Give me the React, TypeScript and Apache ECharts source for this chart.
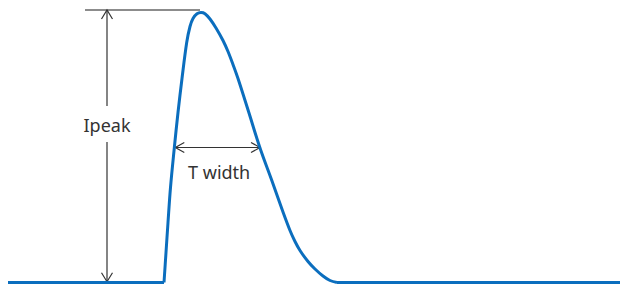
import React, { useEffect, useRef } from "react";
import * as echarts from "echarts";

// Pulse waveform (time units, current units)
const baselineBeforeTime = [0, 156];
const baselineBeforeCurrent = [0, 0];
const pulseTime = [156, 158, 160, 162.5, 166.3, 170, 174, 178.7, 182, 185, 189, 193, 197, 202, 208, 215, 220, 225, 230, 241, 252, 264, 275, 282, 287, 292, 300, 307, 315, 322, 329];
const pulseCurrent = [0, 30, 60, 95, 134.5, 170, 204, 240, 256, 264, 268.8, 270, 268.8, 263.5, 254.5, 242, 231, 218, 204, 169.5, 134.5, 101.5, 70.5, 52, 41, 32, 21, 13.5, 6.5, 2, 0];
const baselineAfterTime = [329, 612];
const baselineAfterCurrent = [0, 0];

const labels = ["Ipeak", "T width"];

const LINE_COLOR = "#0b6ebe";
const ANNO_COLOR = "#333333";

export default function App() {
  const ref = useRef<HTMLDivElement>(null);
  useEffect(() => {
    if (!ref.current) return;
    const chart = echarts.init(ref.current, undefined, { renderer: "svg" });
    const zip = (a: number[], b: number[]) => a.map((v, i) => [v, b[i]]);
    const lineStyle = { color: LINE_COLOR, width: 3 };
    chart.setOption({
      animation: false,
      grid: { left: 8, top: 0, width: 612, height: 282.5 },
      xAxis: { type: "value", min: 0, max: 612, show: false },
      yAxis: { type: "value", min: 0, max: 282.5, show: false },
      series: [
        { type: "line", data: zip(baselineBeforeTime, baselineBeforeCurrent), symbol: "none", lineStyle, clip: false },
        { type: "line", data: zip(pulseTime, pulseCurrent), symbol: "none", smooth: 0.35, lineStyle, clip: false },
        { type: "line", data: zip(baselineAfterTime, baselineAfterCurrent), symbol: "none", lineStyle, clip: false },
      ],
    });

    const px = (t: number, i: number) => chart.convertToPixel({ gridIndex: 0 }, [t, i]) as number[];
    let pk = 0;
    pulseCurrent.forEach((v, i) => { if (v > pulseCurrent[pk]) pk = i; });
    const peak = px(pulseTime[pk], pulseCurrent[pk]);
    const base = px(0, 0);
    const half = pulseCurrent[pk] / 2;
    let l = 0, r = 0;
    pulseCurrent.forEach((v, i) => {
      if (i < pk && Math.abs(v - half) < Math.abs(pulseCurrent[l] - half)) l = i;
      if (i > pk && (r === 0 || Math.abs(v - half) < Math.abs(pulseCurrent[r] - half))) r = i;
    });
    const hl = px(pulseTime[l], half);
    const hr = px(pulseTime[r], half);

    const ax = 107; // vertical arrow x
    const topY = peak[1] - 2.5;
    const botY = base[1] - 0.8;
    const textY = 125;
    const lineSt = { stroke: ANNO_COLOR, lineWidth: 1.2, fill: "none" };

    chart.setOption({
      graphic: [
        { type: "line", shape: { x1: 85, y1: topY, x2: peak[0] - 1, y2: topY }, style: { stroke: "#8c8c8c", lineWidth: 2 } },
        { type: "line", shape: { x1: ax, y1: topY, x2: ax, y2: 106 }, style: lineSt },
        { type: "line", shape: { x1: ax, y1: 142, x2: ax, y2: botY }, style: lineSt },
        { type: "polyline", shape: { points: [[ax - 5.5, topY + 9], [ax, topY], [ax + 5.5, topY + 9]] }, style: lineSt },
        { type: "polyline", shape: { points: [[ax - 5.5, botY - 9], [ax, botY], [ax + 5.5, botY - 9]] }, style: lineSt },
        { type: "text", x: ax, y: textY, style: { text: labels[0], fontFamily: "Noto Sans", fontSize: 18, fill: ANNO_COLOR, textAlign: "center", textVerticalAlign: "middle" } },
        { type: "line", shape: { x1: hl[0] + 1, y1: hl[1], x2: hr[0], y2: hr[1] }, style: lineSt },
        { type: "polyline", shape: { points: [[hl[0] + 10, hl[1] - 5], [hl[0] + 1, hl[1]], [hl[0] + 10, hl[1] + 5]] }, style: lineSt },
        { type: "polyline", shape: { points: [[hr[0] - 9, hr[1] - 5], [hr[0], hr[1]], [hr[0] - 9, hr[1] + 5]] }, style: lineSt },
        { type: "text", x: (hl[0] + hr[0]) / 2 + 2, y: 172, style: { text: labels[1], fontFamily: "Noto Sans", fontSize: 18, fill: ANNO_COLOR, textAlign: "center", textVerticalAlign: "middle" } },
      ],
    });
    return () => chart.dispose();
  }, []);
  return <div ref={ref} style={{ position: "fixed", left: 0, top: 0, width: 622, height: 284, background: "#fff" }} />;
}
